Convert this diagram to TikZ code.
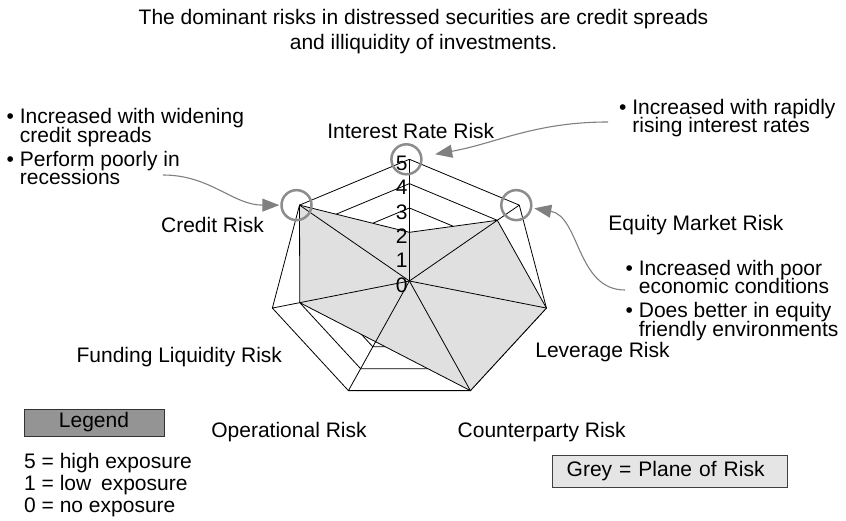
\documentclass[tikz,border=0pt]{standalone}
\usepackage{fontspec}
\setmainfont{Liberation Sans}
\usetikzlibrary{arrows.meta,calc}
\newcommand\riskfont{\fontsize{21}{18.6}\selectfont\lineskiplimit=-20pt\relax}

\begin{document}
\begin{tikzpicture}[x=1pt,y=-1pt,
    txt/.style={font=\riskfont, inner sep=0pt},
    axis/.style={txt, anchor=base},
    note/.style={txt, align=left, anchor=base west},
    ring/.style={draw=black, line width=0.8pt},
    spoke/.style={draw=black, line width=0.8pt},
    plane/.style={fill=black!12, draw=black, line width=0.8pt},
    markcirc/.style={circle, draw=black!45, line width=2.5pt, minimum size=30pt, inner sep=0pt, xshift=-3pt},
    notearrow/.style={draw=black!50, line width=1.1pt, -{Triangle[length=17pt,width=13pt,fill=black!50]}},
  ]
  \useasboundingbox (0,0) rectangle (846,521);

  % title (base = last line)
  \node[txt, align=center, anchor=base] (title) at (423.5,50)
    {The dominant risks in distressed securities are credit spreads\\[6.4pt]and illiquidity of investments.};

  % radar of the seven risks
  \begin{scope}[shift={(409.4,281)}, x=1.155pt, y=1pt]
    \coordinate (c) at (0,0);
    \foreach \k in {0,...,6}
      \coordinate (v\k) at ({90-\k*360/7}:{5*24.34});
    \foreach \r in {1,...,5}
      \draw[ring] (90:{\r*24.34}) \foreach \k in {1,...,6} { -- ({90-\k*360/7}:{\r*24.34}) } -- cycle;
    \foreach \v [count=\k from 0] in {2,4,5,5,2.77,4,5}
      \coordinate (p\k) at ({90-\k*360/7}:{\v*24.34});
    \draw[plane] (p0) -- (p1) -- (p2) -- (p3) -- (p4) -- (p5) -- (p6) -- cycle;
    \foreach \k in {0,...,6}
      \draw[spoke] (c) -- (v\k);
    \foreach \l in {0,...,5}
      \node[txt, anchor=east] (tick\l) at (-1.5,{\l*24.34-4}) {\l};
    \node[markcirc] (ircirc) at (v0) {};
    \node[markcirc] (eqcirc) at (v1) {};
    \node[markcirc] (crcirc) at (v6) {};
  \end{scope}

  % axis names
  \node[axis] (irrisk) at (410.8,138.3) {Interest Rate Risk};
  \node[axis] (eqrisk) at (696,231) {Equity Market Risk};
  \node[axis] (levrisk) at (602.5,357) {Leverage Risk};
  \node[axis] (cprisk) at (541.7,437) {Counterparty Risk};
  \node[axis] (oprisk) at (289,437) {Operational Risk};
  \node[axis] (flrisk) at (179.3,362) {Funding Liquidity Risk};
  \node[axis] (crrisk) at (212.5,232.7) {Credit Risk};

  % notes (base = last line)
  \node[note] (crnote) at (6.5,185)
    {\textbullet\ Increased with widening\\\hphantom{\textbullet\ }credit spreads\\[5.6pt]\textbullet\ Perform poorly in\\\hphantom{\textbullet\ }recessions};
  \node[note] (irnote) at (619,133)
    {\textbullet\ Increased with rapidly\\\hphantom{\textbullet\ }rising interest rates};
  \node[note] (eqnote) at (625.5,336)
    {\textbullet\ Increased with poor\\\hphantom{\textbullet\ }economic conditions\\[5pt]\textbullet\ Does better in equity\\\hphantom{\textbullet\ }friendly environments};

  \coordinate (irfrom) at (608,122);
  \coordinate (crfrom) at (163,175);
  \coordinate (eqfrom) at (625,290);
  \draw[notearrow, shorten >=13pt] (irfrom) to[out=180,in=10] (ircirc);
  \draw[notearrow, shorten >=1pt] (crfrom) to[out=0,in=180] (crcirc);
  \draw[notearrow, shorten >=2pt] (eqfrom) to[out=180,in=-10] (eqcirc);

  % legend
  \node[txt, draw=black!80, fill=black!42, line width=0.8pt, minimum width=140pt, minimum height=27pt] (legend) at (94,422.5) {Legend};
  \node[txt, anchor=base west] (high) at (24,468) {5 = high exposure};
  \node[txt, anchor=base west] (low) at (24,490.3) {1 = low\hspace{4pt} exposure};
  \node[txt, anchor=base west] (none) at (24,512.6) {0 = no exposure};
  \node[txt, draw=black!75, fill=black!10, line width=1pt, text width=207pt, align=left, inner xsep=14pt, minimum height=32pt] (greybox) at (670.2,471.2) {Grey = Plane of Risk};
\end{tikzpicture}
\end{document}
